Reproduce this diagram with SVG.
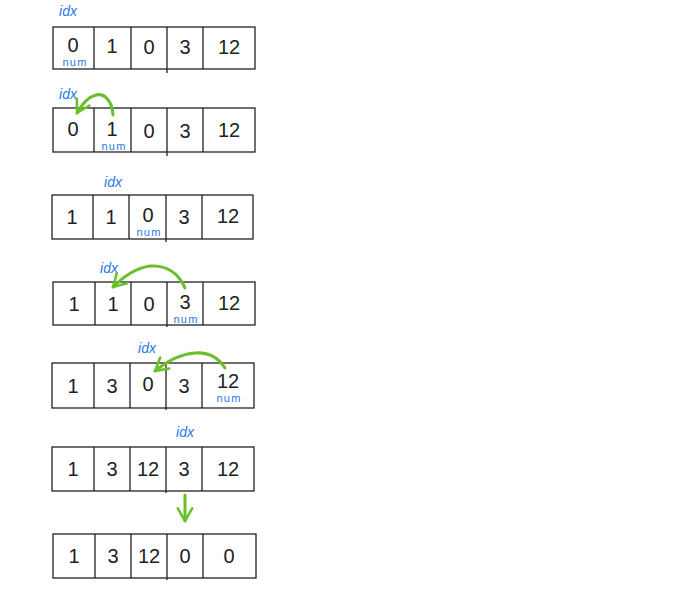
<svg xmlns="http://www.w3.org/2000/svg" width="697" height="596" viewBox="0 0 697 596">
<style>
.box{fill:none;stroke:#222;stroke-width:1.3}
.d{font-family:"Liberation Sans",sans-serif;font-size:20px;fill:#222;text-anchor:middle}
.idx{font-family:"Liberation Sans",sans-serif;font-size:14px;fill:#1f78e8;text-anchor:middle;font-style:italic}
.num{font-family:"Liberation Sans",sans-serif;font-size:11px;letter-spacing:1.2px;fill:#1f78e8;text-anchor:middle}
.arr{fill:none;stroke:#6cbf2c;stroke-width:3;stroke-linecap:round;stroke-linejoin:round}
</style>
<defs>
<marker id="ah" viewBox="0 0 10 10" refX="8" refY="5" markerWidth="6" markerHeight="6" orient="auto" markerUnits="strokeWidth">
<path d="M1,1 L8,5 L1,9" fill="none" stroke="#6cbf2c" stroke-width="1.4" stroke-linecap="round" stroke-linejoin="round"/>
</marker>
</defs>
<rect width="697" height="596" fill="#fff"/>

<g id="row1">
<rect class="box" x="53" y="27" width="202" height="42"/>
<path class="box" d="M94,27V69M131,27V69M167,27V73M203,27V69"/>
<text class="d" x="73" y="52">0</text><text class="d" x="112" y="53">1</text><text class="d" x="149" y="54">0</text><text class="d" x="185" y="54">3</text><text class="d" x="229" y="54">12</text>
<text class="idx" x="68" y="16">idx</text>
<text class="num" x="75" y="66">num</text>
</g>

<g id="row2">
<rect class="box" x="53" y="108" width="202" height="44"/>
<path class="box" d="M94,108V152M131,108V152M167,108V156M203,108V152"/>
<text class="d" x="73" y="136">0</text><text class="d" x="112" y="136">1</text><text class="d" x="149" y="138">0</text><text class="d" x="185" y="138">3</text><text class="d" x="229" y="137">12</text>
<text class="idx" x="68" y="99">idx</text>
<text class="num" x="114" y="150">num</text>
</g>

<g id="row3">
<rect class="box" x="52" y="195" width="201" height="44"/>
<path class="box" d="M93,195V239M129,195V239M166,195V242M202,195V239"/>
<text class="d" x="72" y="224">1</text><text class="d" x="111" y="224">1</text><text class="d" x="148" y="222">0</text><text class="d" x="184" y="224">3</text><text class="d" x="228" y="223">12</text>
<text class="idx" x="113" y="187">idx</text>
<text class="num" x="149" y="236">num</text>
</g>

<g id="row4">
<rect class="box" x="53" y="282" width="202" height="43"/>
<path class="box" d="M95,282V325M131,282V325M167,282V327M203,282V325"/>
<text class="d" x="74" y="311">1</text><text class="d" x="113" y="311">1</text><text class="d" x="149" y="311">0</text><text class="d" x="185" y="309">3</text><text class="d" x="229" y="310">12</text>
<text class="idx" x="109" y="273">idx</text>
<text class="num" x="186" y="323">num</text>
</g>

<g id="row5">
<rect class="box" x="52" y="363" width="202" height="45"/>
<path class="box" d="M94,363V408M130,363V408M166,363V410M202,363V408"/>
<text class="d" x="73" y="393">1</text><text class="d" x="112" y="393">3</text><text class="d" x="148" y="391">0</text><text class="d" x="184" y="393">3</text><text class="d" x="228" y="388">12</text>
<text class="idx" x="147" y="353">idx</text>
<text class="num" x="229" y="402">num</text>
</g>

<g id="row6">
<rect class="box" x="52" y="447" width="202" height="44"/>
<path class="box" d="M94,447V491M130,447V491M166,447V493M202,447V491"/>
<text class="d" x="73" y="476">1</text><text class="d" x="112" y="476">3</text><text class="d" x="148" y="476">12</text><text class="d" x="184" y="476">3</text><text class="d" x="228" y="476">12</text>
<text class="idx" x="185" y="437">idx</text>
</g>

<g id="row7">
<rect class="box" x="53" y="534" width="203" height="44"/>
<path class="box" d="M95,534V578M131,534V578M167,534V580M203,534V578"/>
<text class="d" x="74" y="563">1</text><text class="d" x="113" y="563">3</text><text class="d" x="149" y="563">12</text><text class="d" x="185" y="563">0</text><text class="d" x="229" y="563">0</text>
</g>

<g id="connectors">
<path class="arr" d="M113,115 C112,100 104,93 96,95 C88,97 82,104 77,113" marker-end="url(#ah)"/>
<path class="arr" d="M185,288 C178,272 165,265 150,266 C135,268 123,277 113,287" marker-end="url(#ah)"/>
<path class="arr" d="M225,368 C218,357 208,352 195,353 C180,354 166,362 155,371" marker-end="url(#ah)"/>
<path class="arr" d="M185,495 V521" marker-end="url(#ah)"/>
</g>
</svg>
